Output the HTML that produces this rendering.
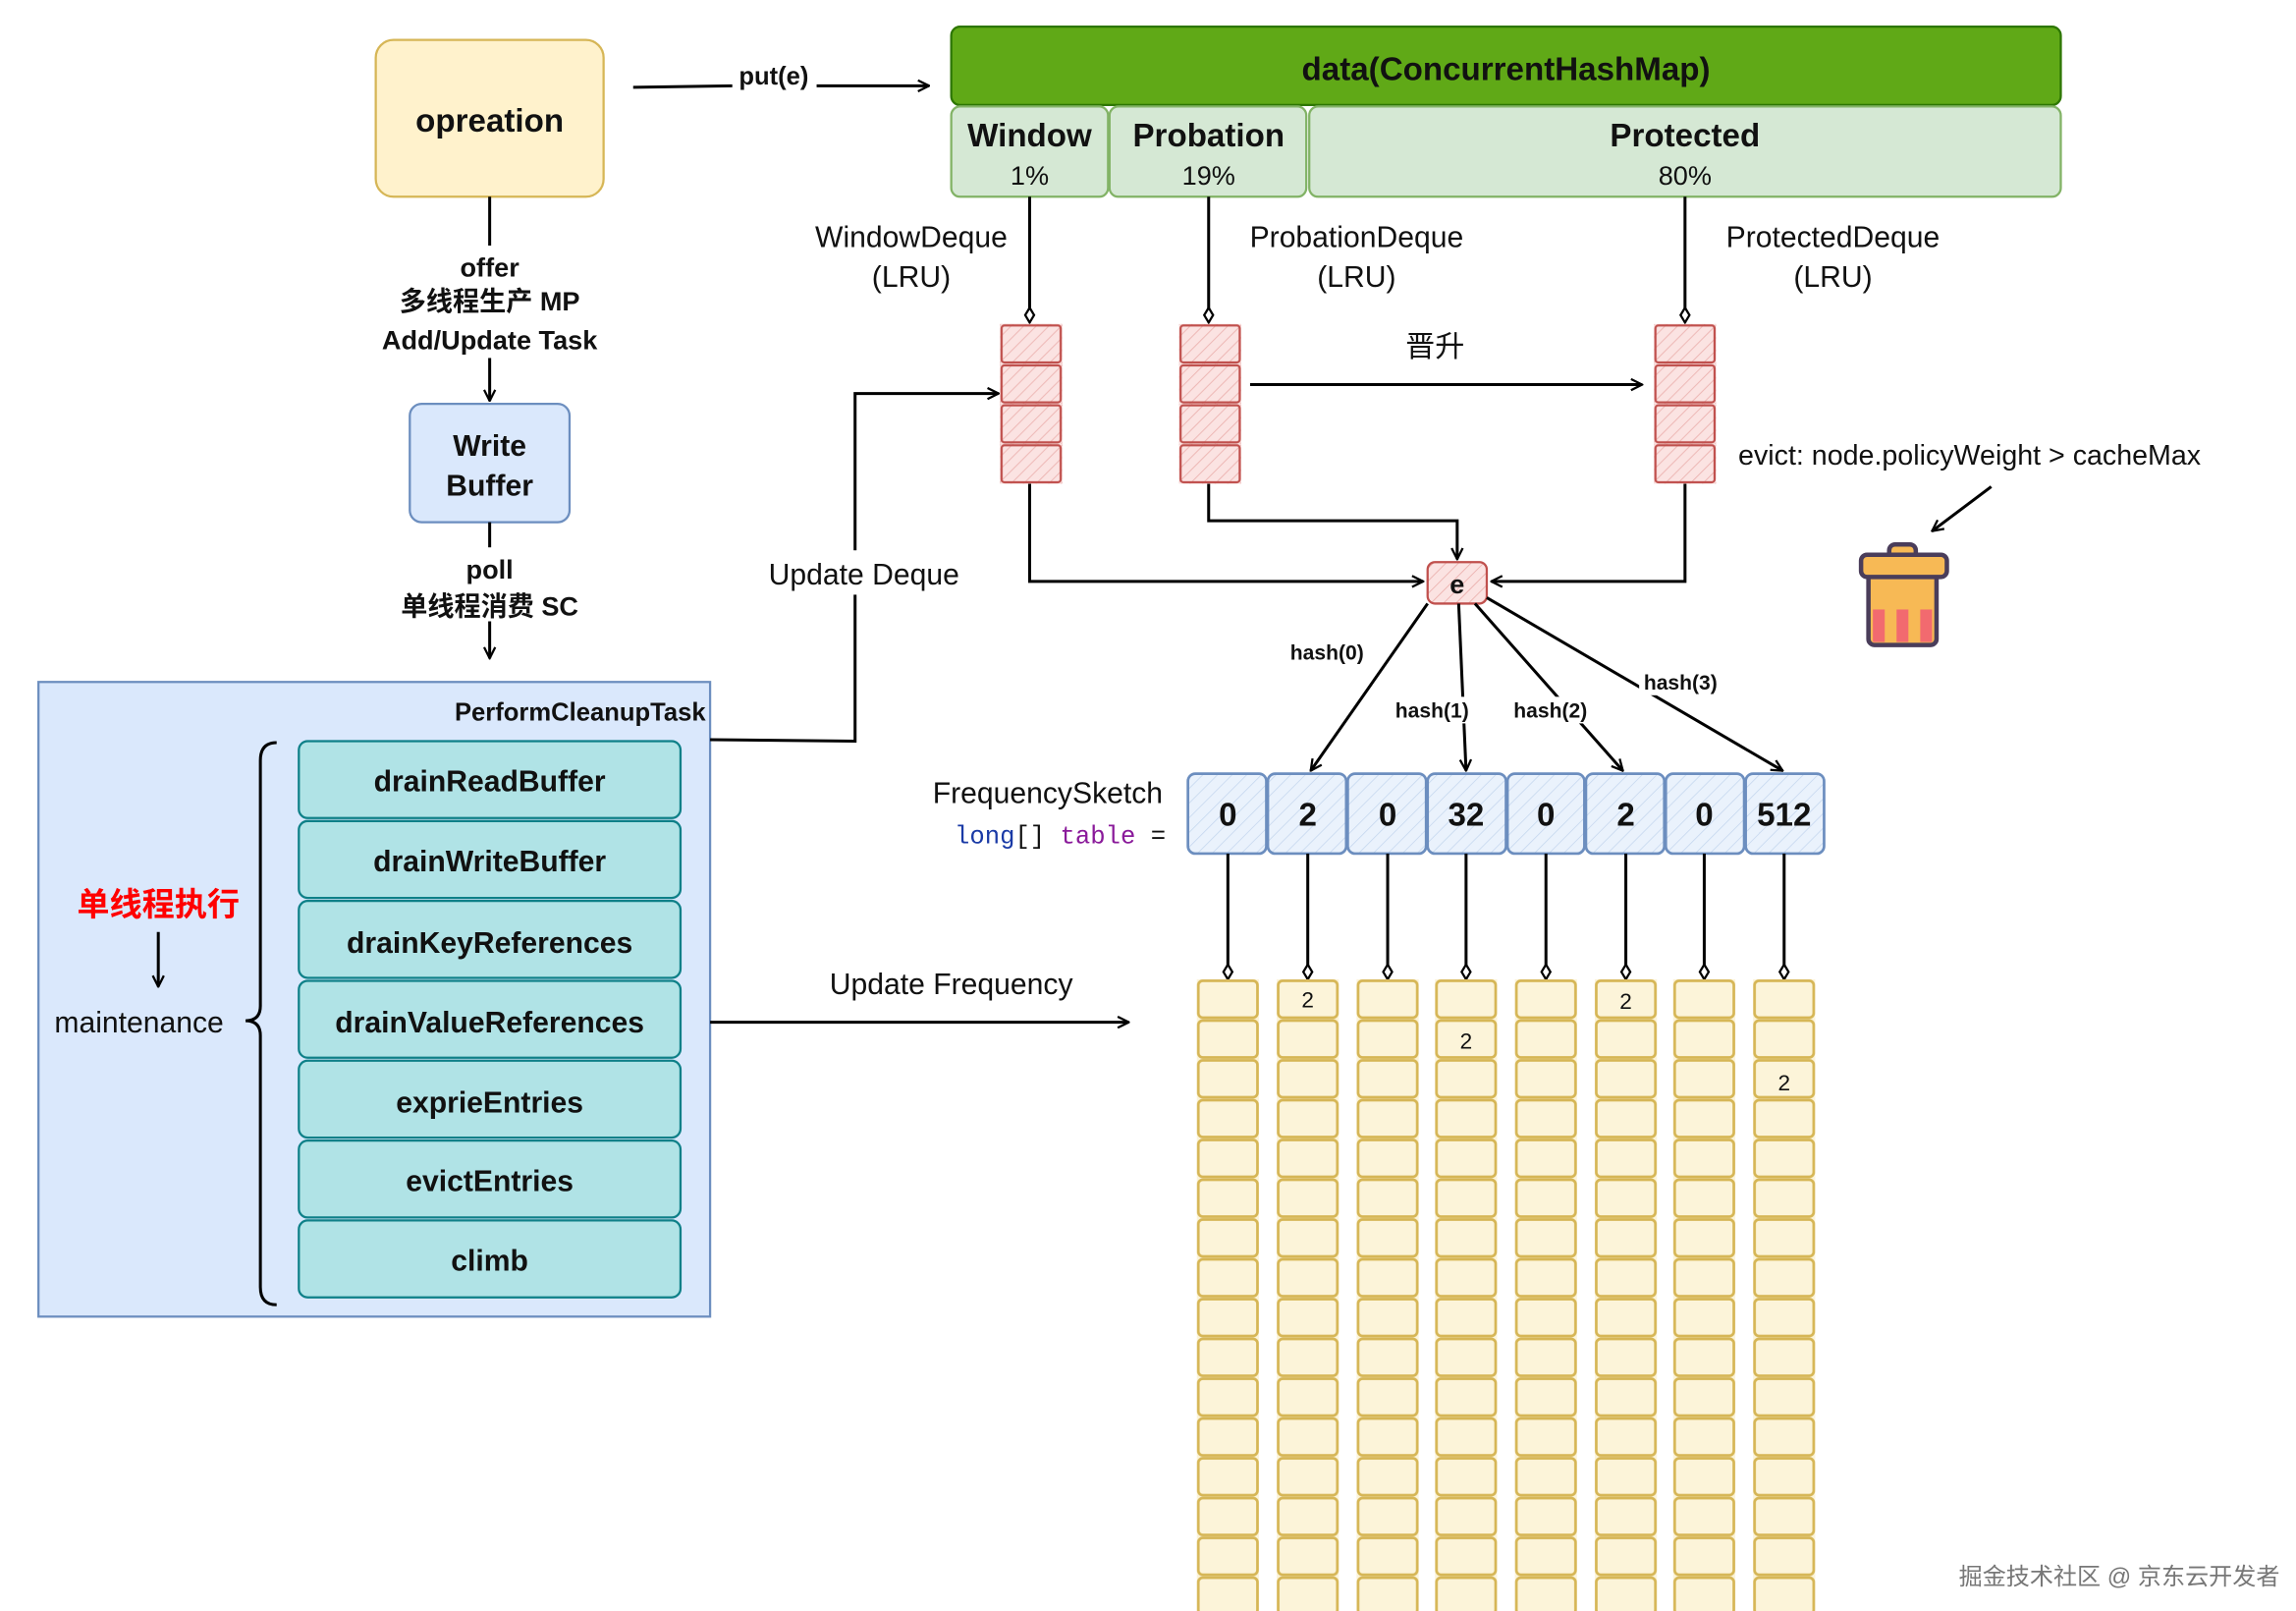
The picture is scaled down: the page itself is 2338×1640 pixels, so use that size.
<!DOCTYPE html>
<html><head><meta charset="utf-8"><style>
html,body{margin:0;padding:0;background:#fff;width:2338px;height:1640px;overflow:hidden}
svg{display:block}
text{font-family:"Liberation Sans","Noto Sans CJK SC",sans-serif;fill:#111}
.b{font-weight:bold}
</style></head><body>
<svg width="2338" height="1640" viewBox="0 0 1552 1089" preserveAspectRatio="none" xmlns="http://www.w3.org/2000/svg">
<defs>
<marker id="ar" viewBox="0 0 12 12" refX="11" refY="6" markerWidth="9" markerHeight="9" orient="auto" markerUnits="userSpaceOnUse"><path d="M1,1 L11,6 L1,11" fill="none" stroke="#000" stroke-width="2"/></marker>
<marker id="dm" viewBox="0 0 12 8" refX="11" refY="4" markerWidth="12" markerHeight="8" orient="auto" markerUnits="userSpaceOnUse"><path d="M1,4 L6,1 L11,4 L6,7 Z" fill="#fff" stroke="#000" stroke-width="1.5"/></marker>
<pattern id="hr" width="6" height="6" patternUnits="userSpaceOnUse" patternTransform="rotate(45)"><rect width="6" height="6" fill="#fbe3e2"/><line x1="0" y1="0" x2="0" y2="6" stroke="#e9a9a6" stroke-width="1"/></pattern>
<pattern id="hb" width="7" height="7" patternUnits="userSpaceOnUse" patternTransform="rotate(45)"><rect width="7" height="7" fill="#eaf2fc"/><line x1="0" y1="0" x2="0" y2="7" stroke="#c4d6ee" stroke-width="1"/></pattern>
<pattern id="yc" x="0" y="662" width="42" height="26.9" patternUnits="userSpaceOnUse"><rect width="42" height="26.9" fill="#fcf4d9"/><rect x="1" y="1" width="40" height="24.9" rx="3" fill="none" stroke="#d6b656" stroke-width="1.8"/></pattern>
<pattern id="rc" x="0" y="219" width="42" height="27" patternUnits="userSpaceOnUse"><rect width="42" height="27" fill="url(#hr)"/><rect x="1" y="1" width="40" height="25" rx="2" fill="none" stroke="#c0504d" stroke-width="1.5"/></pattern>
</defs>

<!-- opreation -->
<rect x="254" y="27" width="154" height="106" rx="12" fill="#fff2cc" stroke="#d6b656" stroke-width="1.5"/>
<text x="331" y="89" class="b" font-size="22" text-anchor="middle">opreation</text>
<line x1="331" y1="133" x2="331" y2="271" stroke="#000" stroke-width="2" marker-end="url(#ar)"/>
<rect x="240" y="166" width="185" height="76" fill="#fff"/>
<text x="331" y="187" class="b" font-size="18" text-anchor="middle">offer</text>
<text x="331" y="210" class="b" font-size="18" text-anchor="middle">多线程生产 MP</text>
<text x="331" y="236" class="b" font-size="18" text-anchor="middle">Add/Update Task</text>

<rect x="277" y="273" width="108" height="80" rx="8" fill="#dae8fc" stroke="#6c8ebf" stroke-width="1.5"/>
<text x="331" y="308" class="b" font-size="20" text-anchor="middle">Write</text>
<text x="331" y="335" class="b" font-size="20" text-anchor="middle">Buffer</text>
<line x1="331" y1="353" x2="331" y2="445" stroke="#000" stroke-width="2" marker-end="url(#ar)"/>
<rect x="255" y="370" width="150" height="50" fill="#fff"/>
<text x="331" y="391" class="b" font-size="18" text-anchor="middle">poll</text>
<text x="331" y="416" class="b" font-size="18" text-anchor="middle">单线程消费 SC</text>

<!-- panel -->
<rect x="26" y="461" width="454" height="429" fill="#dae8fc" stroke="#6c8ebf" stroke-width="1.5"/>
<text x="477" y="487" class="b" font-size="17" text-anchor="end">PerformCleanupTask</text>
<g fill="#b0e3e6" stroke="#0e8088" stroke-width="1.5">
<rect x="202" y="501" width="258" height="52" rx="6"/>
<rect x="202" y="555" width="258" height="52" rx="6"/>
<rect x="202" y="609" width="258" height="52" rx="6"/>
<rect x="202" y="663" width="258" height="52" rx="6"/>
<rect x="202" y="717" width="258" height="52" rx="6"/>
<rect x="202" y="771" width="258" height="52" rx="6"/>
<rect x="202" y="825" width="258" height="52" rx="6"/>
</g>
<g class="b" font-size="20" text-anchor="middle">
<text x="331" y="535" class="b">drainReadBuffer</text>
<text x="331" y="589" class="b">drainWriteBuffer</text>
<text x="331" y="644" class="b">drainKeyReferences</text>
<text x="331" y="698" class="b">drainValueReferences</text>
<text x="331" y="752" class="b">exprieEntries</text>
<text x="331" y="805" class="b">evictEntries</text>
<text x="331" y="859" class="b">climb</text>
</g>
<path d="M187,502 Q176,502 176,514 L176,680 Q176,690 166,690 Q176,690 176,700 L176,870 Q176,882 187,882" fill="none" stroke="#000" stroke-width="2"/>
<text x="107" y="619" class="b" font-size="22" text-anchor="middle" style="fill:#ff0000">单线程执行</text>
<line x1="107" y1="630" x2="107" y2="667" stroke="#000" stroke-width="2" marker-end="url(#ar)"/>
<text x="94" y="698" font-size="20" text-anchor="middle">maintenance</text>

<!-- put(e) -->
<path d="M428,59 L495,58" stroke="#000" stroke-width="2" fill="none"/>
<text x="523" y="57" class="b" font-size="17" text-anchor="middle">put(e)</text>
<path d="M552,58 L628,58" stroke="#000" stroke-width="2" fill="none" marker-end="url(#ar)"/>

<!-- data map -->
<rect x="643" y="18" width="750" height="53" rx="6" fill="#60a917" stroke="#2d7600" stroke-width="1.5"/>
<text x="1018" y="54" class="b" font-size="22" text-anchor="middle">data(ConcurrentHashMap)</text>
<g fill="#d5e8d4" stroke="#82b366" stroke-width="1.5">
<rect x="643" y="72" width="106" height="61" rx="6"/>
<rect x="750" y="72" width="133" height="61" rx="6"/>
<rect x="885" y="72" width="508" height="61" rx="6"/>
</g>
<g class="b" font-size="22" text-anchor="middle">
<text x="696" y="99" class="b">Window</text>
<text x="817" y="99" class="b">Probation</text>
<text x="1139" y="99" class="b">Protected</text>
</g>
<g font-size="18" text-anchor="middle">
<text x="696" y="125">1%</text><text x="817" y="125">19%</text><text x="1139" y="125">80%</text>
</g>
<g font-size="20" text-anchor="middle">
<text x="616" y="167">WindowDeque</text><text x="616" y="194">(LRU)</text>
<text x="917" y="167">ProbationDeque</text><text x="917" y="194">(LRU)</text>
<text x="1239" y="167">ProtectedDeque</text><text x="1239" y="194">(LRU)</text>
</g>
<g stroke="#000" stroke-width="2">
<line x1="696" y1="133" x2="696" y2="218" marker-end="url(#dm)"/>
<line x1="817" y1="133" x2="817" y2="218" marker-end="url(#dm)"/>
<line x1="1139" y1="133" x2="1139" y2="218" marker-end="url(#dm)"/>
</g>
<rect x="676" y="219" width="42" height="108" fill="url(#rc)" transform="translate(0,0)"/>
<g transform="translate(676,0)"><rect x="0" y="219" width="42" height="108" fill="url(#rc)"/></g>
<g transform="translate(797,0)"><rect x="0" y="219" width="42" height="108" fill="url(#rc)"/></g>
<g transform="translate(1118,0)"><rect x="0" y="219" width="42" height="108" fill="url(#rc)"/></g>

<line x1="845" y1="260" x2="1110" y2="260" stroke="#000" stroke-width="2" marker-end="url(#ar)"/>
<text x="970" y="241" font-size="20" text-anchor="middle">晋升</text>
<text x="1175" y="314" font-size="19">evict: node.policyWeight &gt; cacheMax</text>
<line x1="1346" y1="329" x2="1306" y2="359" stroke="#000" stroke-width="2" marker-end="url(#ar)"/>
<!-- trash -->
<g stroke="#4a3d5a" stroke-width="3">
<rect x="1263" y="386" width="46" height="50" rx="4" fill="#f7b955"/>
<rect x="1277" y="368" width="18" height="10" rx="4" fill="#f7b955"/>
<rect x="1258" y="375" width="58" height="15" rx="4" fill="#f7b955"/>
</g>
<g fill="#f26a6f"><rect x="1266" y="412" width="8" height="22"/><rect x="1282" y="412" width="8" height="22"/><rect x="1298" y="412" width="8" height="22"/></g>

<!-- e -->
<rect x="965" y="380" width="40" height="28" rx="5" fill="url(#hr)" stroke="#c0504d" stroke-width="1.5"/>
<text x="985" y="401" class="b" font-size="18" text-anchor="middle">e</text>
<g fill="none" stroke="#000" stroke-width="2">
<path d="M696,327 L696,393 L962,393" marker-end="url(#ar)"/>
<path d="M817,327 L817,352 L985,352 L985,378" marker-end="url(#ar)"/>
<path d="M1139,327 L1139,393 L1008,393" marker-end="url(#ar)"/>
<path d="M480,500 L578,501 L578,266 L675,266" marker-end="url(#ar)"/>
<path d="M480,691 L763,691" marker-end="url(#ar)"/>
<path d="M965,408 L886,521" marker-end="url(#ar)"/>
<path d="M986,408 L991,521" marker-end="url(#ar)"/>
<path d="M997,408 L1097,521" marker-end="url(#ar)"/>
<path d="M1005,404 L1205,521" marker-end="url(#ar)"/>
</g>
<rect x="512" y="372" width="145" height="30" fill="#fff"/>
<text x="584" y="395" font-size="20" text-anchor="middle">Update Deque</text>
<text x="643" y="672" font-size="20" text-anchor="middle">Update Frequency</text>
<g class="b" font-size="14" text-anchor="middle">
<text x="897" y="446" class="b">hash(0)</text>
<rect x="940" y="471" width="56" height="18" fill="#fff"/><text x="968" y="485" class="b">hash(1)</text>
<rect x="1020" y="471" width="56" height="18" fill="#fff"/><text x="1048" y="485" class="b">hash(2)</text>
<rect x="1108" y="452" width="56" height="18" fill="#fff"/><text x="1136" y="466" class="b">hash(3)</text>
</g>

<text x="786" y="543" font-size="20" text-anchor="end">FrequencySketch</text>
<text x="788" y="570" font-size="17" text-anchor="end" style="font-family:'Liberation Mono',monospace"><tspan style="fill:#1a3aa6">long</tspan><tspan>[] </tspan><tspan style="fill:#8a1a9a">table</tspan><tspan> =</tspan></text>

<g stroke="#6c8ebf" stroke-width="1.8" fill="url(#hb)">
<rect x="803" y="523" width="53" height="54" rx="5"/>
<rect x="857" y="523" width="53" height="54" rx="5"/>
<rect x="911" y="523" width="53" height="54" rx="5"/>
<rect x="965" y="523" width="53" height="54" rx="5"/>
<rect x="1019" y="523" width="52" height="54" rx="5"/>
<rect x="1072" y="523" width="53" height="54" rx="5"/>
<rect x="1126" y="523" width="53" height="54" rx="5"/>
<rect x="1180" y="523" width="53" height="54" rx="5"/>
</g>
<g class="b" font-size="22" text-anchor="middle">
<text x="830" y="558" class="b">0</text><text x="884" y="558" class="b">2</text>
<text x="938" y="558" class="b">0</text><text x="991" y="558" class="b">32</text>
<text x="1045" y="558" class="b">0</text><text x="1099" y="558" class="b">2</text>
<text x="1152" y="558" class="b">0</text><text x="1206" y="558" class="b">512</text>
</g>
<g stroke="#000" stroke-width="2">
<line x1="830" y1="577" x2="830" y2="662" marker-end="url(#dm)"/>
<line x1="884" y1="577" x2="884" y2="662" marker-end="url(#dm)"/>
<line x1="938" y1="577" x2="938" y2="662" marker-end="url(#dm)"/>
<line x1="991" y1="577" x2="991" y2="662" marker-end="url(#dm)"/>
<line x1="1045" y1="577" x2="1045" y2="662" marker-end="url(#dm)"/>
<line x1="1099" y1="577" x2="1099" y2="662" marker-end="url(#dm)"/>
<line x1="1152" y1="577" x2="1152" y2="662" marker-end="url(#dm)"/>
<line x1="1206" y1="577" x2="1206" y2="662" marker-end="url(#dm)"/>
</g>
<g>
<g transform="translate(809,0)"><rect y="662" width="42" height="430" fill="url(#yc)"/></g>
<g transform="translate(863,0)"><rect y="662" width="42" height="430" fill="url(#yc)"/></g>
<g transform="translate(917,0)"><rect y="662" width="42" height="430" fill="url(#yc)"/></g>
<g transform="translate(970,0)"><rect y="662" width="42" height="430" fill="url(#yc)"/></g>
<g transform="translate(1024,0)"><rect y="662" width="42" height="430" fill="url(#yc)"/></g>
<g transform="translate(1078,0)"><rect y="662" width="42" height="430" fill="url(#yc)"/></g>
<g transform="translate(1131,0)"><rect y="662" width="42" height="430" fill="url(#yc)"/></g>
<g transform="translate(1185,0)"><rect y="662" width="42" height="430" fill="url(#yc)"/></g>
</g>
<g font-size="15" text-anchor="middle">
<text x="884" y="681">2</text><text x="991" y="709">2</text>
<text x="1099" y="682">2</text><text x="1206" y="737">2</text>
</g>
<text x="1541" y="1071" font-size="16" text-anchor="end" style="fill:#777">掘金技术社区 @ 京东云开发者</text>
</svg>
</body></html>
